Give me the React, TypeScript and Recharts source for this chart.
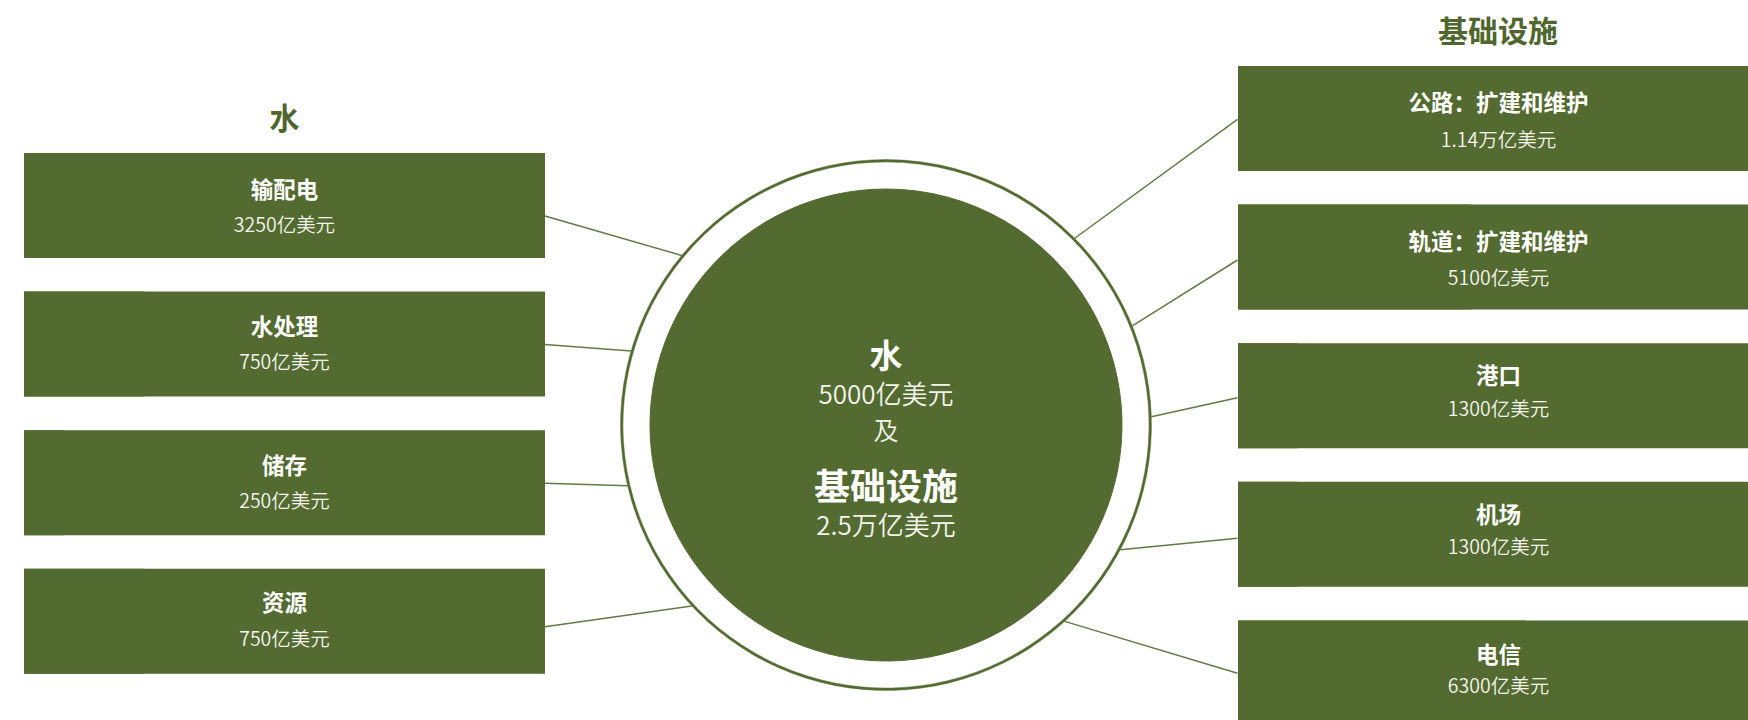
import { BarChart, Bar, XAxis, YAxis, LabelList, PieChart, Pie, Label } from "recharts";

// 投资额，单位：亿美元
const waterItems = ["输配电", "水处理", "储存", "资源"];
const waterAmounts = [3250, 750, 250, 750];
const infraItems = ["公路：扩建和维护", "轨道：扩建和维护", "港口", "机场", "电信"];
const infraAmounts = [11400, 5100, 1300, 1300, 6300];
const centerGroups = ["水", "基础设施"];
const centerAmounts = [5000, 25000];

const GREEN = "#536a30";
const TITLE_GREEN = "#4f672f";
const LINK = "#647a44";
const FONT = "'Noto Sans CJK SC', 'Noto Sans', sans-serif";

const W = 1748;
const H = 720;
const CX = 886;
const CY = 425;
const CORE_R = 236;
const RING_IN = 263;
const RING_OUT = 265.5;

const BOX_W = 521;
const BOX_H = 105;
const PITCH = 138.6;
const BOX_INSET = Math.floor((PITCH - BOX_H) / 2);
const LEFT_X = 24;
const LEFT_TOP = 136;
const RIGHT_X = 1237.5;
const RIGHT_TOP = 49.3;

// [标题偏移, 金额偏移]，相对方框顶部
const LEFT_TEXT = [[35.5, 71], [33.5, 69], [33.5, 69], [32.5, 68.5]];
const RIGHT_TEXT = [[35, 72], [35.5, 71.5], [31, 64], [31, 63.5], [32.5, 64.3]];

// 连线：起点相对方框中线的偏移，终点在外圈上的角度
const LEFT_LINKS = [[11.5, 140.3], [1.5, 163.8], [1.6, 193.2], [6.4, 223]];
const RIGHT_LINKS = [[1.5, 44.7], [3.6, 21.9], [2.7, 1.8], [4.7, -28], [1.1, -47.7]];

const fmt = (v: number) => (v >= 10000 ? `${v / 10000}万亿美元` : `${v}亿美元`);

function SideChart({ names, amounts, left, top, textOffsets }: any) {
  const rows = names.map((name: string, i: number) => ({ name, amount: amounts[i] }));
  const max = Math.max(...amounts);
  const renderLabel = (p: any) => {
    const i = names.indexOf(p.value);
    const y = p.viewBox?.y ?? p.y;
    const [t, v] = textOffsets[i];
    return (
      <g fontFamily={FONT} textAnchor="middle">
        <text x={BOX_W / 2} y={y + t} dominantBaseline="central" fill="#ffffff" fontSize={22.5} fontWeight={700}>
          {names[i]}
        </text>
        <text x={BOX_W / 2} y={y + v} dominantBaseline="central" fill="#f3f4ec" fontSize={19.5} fontWeight={350}>
          {fmt(amounts[i])}
        </text>
      </g>
    );
  };
  return (
    <div style={{ position: "absolute", left, top }}>
      <BarChart
        width={BOX_W}
        height={PITCH * names.length}
        data={rows}
        layout="vertical"
        barSize={BOX_H}
        margin={{ top: 0, right: 0, bottom: 0, left: 0 }}
      >
        <XAxis type="number" dataKey="amount" domain={[0, max]} hide />
        <YAxis type="category" dataKey="name" hide />
        <Bar dataKey="amount" fill={GREEN} background={{ fill: GREEN }} isAnimationActive={false}>
          <LabelList dataKey="name" content={renderLabel} />
        </Bar>
      </BarChart>
    </div>
  );
}

function CenterText() {
  return (
    <g fontFamily={FONT} textAnchor="middle" fill="#ffffff">
      <text x={CX} y={CY - 71.5} dominantBaseline="central" fontSize={33} fontWeight={700}>
        {centerGroups[0]}
      </text>
      <text x={CX} y={CY - 32.5} dominantBaseline="central" fontSize={26} fontWeight={350} fill="#f3f4ec">
        {fmt(centerAmounts[0])}
      </text>
      <text x={CX} y={CY + 3.5} dominantBaseline="central" fontSize={25} fontWeight={350} fill="#f3f4ec">
        及
      </text>
      <text x={CX} y={CY + 59} dominantBaseline="central" fontSize={36} fontWeight={700}>
        {centerGroups[1]}
      </text>
      <text x={CX} y={CY + 98.5} dominantBaseline="central" fontSize={26} fontWeight={350} fill="#f3f4ec">
        {fmt(centerAmounts[1])}
      </text>
    </g>
  );
}

function Links() {
  const ring = (deg: number) => {
    const a = (deg * Math.PI) / 180;
    return [CX + RING_OUT * Math.cos(a), CY - RING_OUT * Math.sin(a)];
  };
  const lines: any[] = [];
  LEFT_LINKS.forEach(([dy, deg], i) => {
    const y = LEFT_TOP + BOX_INSET + i * PITCH + BOX_H / 2 + dy;
    const [x2, y2] = ring(deg);
    lines.push(<line key={`l${i}`} x1={LEFT_X + BOX_W} y1={y} x2={x2} y2={y2} />);
  });
  RIGHT_LINKS.forEach(([dy, deg], i) => {
    const y = RIGHT_TOP + BOX_INSET + i * PITCH + BOX_H / 2 + dy;
    const [x2, y2] = ring(deg);
    lines.push(<line key={`r${i}`} x1={RIGHT_X} y1={y} x2={x2} y2={y2} />);
  });
  return (
    <svg width={W} height={H} style={{ position: "absolute", left: 0, top: 0 }}>
      <g stroke={LINK} strokeWidth={1.5}>{lines}</g>
      <g fontFamily={FONT} fontWeight={700} fontSize={30} fill={TITLE_GREEN} textAnchor="middle">
        <text x={LEFT_X + BOX_W / 2} y={115.5} dominantBaseline="central">
          {centerGroups[0]}
        </text>
        <text x={RIGHT_X + BOX_W / 2} y={28.5} dominantBaseline="central">
          {centerGroups[1]}
        </text>
      </g>
    </svg>
  );
}

export default function App() {
  const core = centerGroups.map((name, i) => ({ name, amount: centerAmounts[i] }));
  return (
    <div
      style={{
        position: "absolute",
        left: 0,
        top: 0,
        width: W,
        height: H,
        overflow: "hidden",
        background: "#ffffff",
        fontFamily: FONT,
      }}
    >
      <Links />
      <div style={{ position: "absolute", left: 0, top: 0 }}>
        <PieChart width={W} height={H} margin={{ top: 0, right: 0, bottom: 0, left: 0 }}>
          <Pie
            data={core}
            dataKey="amount"
            nameKey="name"
            cx={CX}
            cy={CY}
            innerRadius={RING_IN}
            outerRadius={RING_OUT}
            startAngle={90}
            endAngle={-270}
            fill={GREEN}
            stroke={GREEN}
            strokeWidth={0.4}
            isAnimationActive={false}
          />
          <Pie
            data={core}
            dataKey="amount"
            nameKey="name"
            cx={CX}
            cy={CY}
            innerRadius={0}
            outerRadius={CORE_R}
            startAngle={90}
            endAngle={-270}
            fill={GREEN}
            stroke={GREEN}
            strokeWidth={1}
            isAnimationActive={false}
          >
            <Label position="center" content={() => <CenterText />} />
          </Pie>
        </PieChart>
      </div>
      <SideChart names={waterItems} amounts={waterAmounts} left={LEFT_X} top={LEFT_TOP} textOffsets={LEFT_TEXT} />
      <SideChart names={infraItems} amounts={infraAmounts} left={RIGHT_X} top={RIGHT_TOP} textOffsets={RIGHT_TEXT} />
    </div>
  );
}
